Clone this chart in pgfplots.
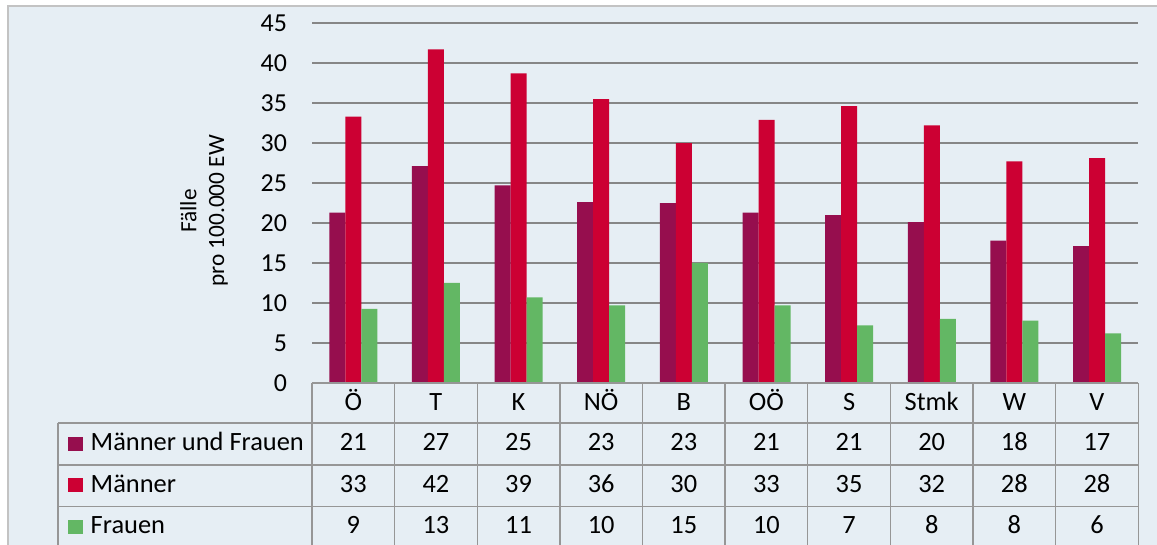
\documentclass[border=0pt]{standalone}
\usepackage{fontspec}
\setmainfont{Carlito}
\usepackage{pgfplots}
\pgfplotsset{compat=1.18}
\definecolor{bg}{RGB}{230,238,244}
\definecolor{muf}{RGB}{150,14,78}
\definecolor{men}{RGB}{204,0,51}
\definecolor{wom}{RGB}{99,183,100}
\definecolor{gridc}{RGB}{134,134,134}
\definecolor{tab}{RGB}{150,150,150}
\definecolor{framec}{RGB}{195,195,195}
\newcommand\tf{\fontsize{13.25}{16}\selectfont}
\begin{document}
\begin{tikzpicture}
\useasboundingbox (0,0) rectangle (578.5bp,272.5bp);
\begin{scope}[x=0.5bp,y=-0.5bp,yshift=272.5bp]
\fill[white] (0,0) rectangle (1157,545);
\filldraw[fill=bg, draw=framec, line width=0.6bp] (8,6) rectangle (1170,560);
\end{scope}
\begin{axis}[at={(156bp,81bp)}, anchor=south west, scale only axis,
  width=413.2bp, height=180bp,
  xmin=-0.5, xmax=9.5, ymin=0, ymax=45,
  ytick={0,5,...,45}, xtick=\empty,
  ymajorgrids, grid style={gridc, line width=0.7bp},
  axis line style={draw=none},
  ybar=0pt, bar width=8bp,
  tick style={draw=none},
  yticklabel style={font=\fontsize{13}{15}\selectfont, xshift=-9bp},
  /pgf/number format/assume math mode=true,
  clip=false]
\addplot[fill=muf, draw=none] coordinates {(0,21.3) (1,27.1) (2,24.7) (3,22.6) (4,22.5) (5,21.3) (6,21.0) (7,20.1) (8,17.8) (9,17.1)};
\addplot[fill=men, draw=none] coordinates {(0,33.3) (1,41.7) (2,38.7) (3,35.5) (4,30.0) (5,32.9) (6,34.6) (7,32.2) (8,27.7) (9,28.1)};
\addplot[fill=wom, draw=none] coordinates {(0,9.25) (1,12.5) (2,10.7) (3,9.7) (4,15.0) (5,9.7) (6,7.2) (7,8.0) (8,7.8) (9,6.2)};
\end{axis}
\begin{scope}[x=0.5bp,y=-0.5bp,yshift=272.5bp, line width=0.7bp]
\draw[tab] (312,383) -- (1138.3,383);
\foreach \k in {0,...,10} \draw[tab] ({312+\k*82.63},383) -- ({312+\k*82.63},560);
\draw[tab] (58,423) -- (58,560);
\foreach \yy in {423,465,506.7} \draw[tab] (58,\yy) -- (1138.3,\yy);
\foreach \n [count=\i from 0] in {Ö,T,K,NÖ,B,OÖ,S,Stmk,W,V}
  \node[anchor=base, font=\tf, inner sep=0] at ({353.3+\i*82.63},411) {\n};
\foreach \n [count=\i from 0] in {21,27,25,23,23,21,21,20,18,17}
  \node[anchor=base, font=\tf, inner sep=0] at ({353.3+\i*82.63},451) {\n};
\foreach \n [count=\i from 0] in {33,42,39,36,30,33,35,32,28,28}
  \node[anchor=base, font=\tf, inner sep=0] at ({353.3+\i*82.63},492.5) {\n};
\foreach \n [count=\i from 0] in {9,13,11,10,15,10,7,8,8,6}
  \node[anchor=base, font=\tf, inner sep=0] at ({353.3+\i*82.63},534) {\n};
\fill[muf] (68,437) rectangle (83,451);
\fill[men] (68,478.5) rectangle (83,492.5);
\fill[wom] (68,520) rectangle (83,534);
\node[anchor=base west, font=\tf, inner sep=0] at (90,451) {Männer und Frauen};
\node[anchor=base west, font=\tf, inner sep=0] at (90,492.5) {Männer};
\node[anchor=base west, font=\tf, inner sep=0] at (90,534) {Frauen};
\node[rotate=90, align=center, font=\fontsize{11.7}{14}\selectfont] at (204,211) {Fälle\\pro 100.000 EW};
\end{scope}
\end{tikzpicture}
\end{document}
